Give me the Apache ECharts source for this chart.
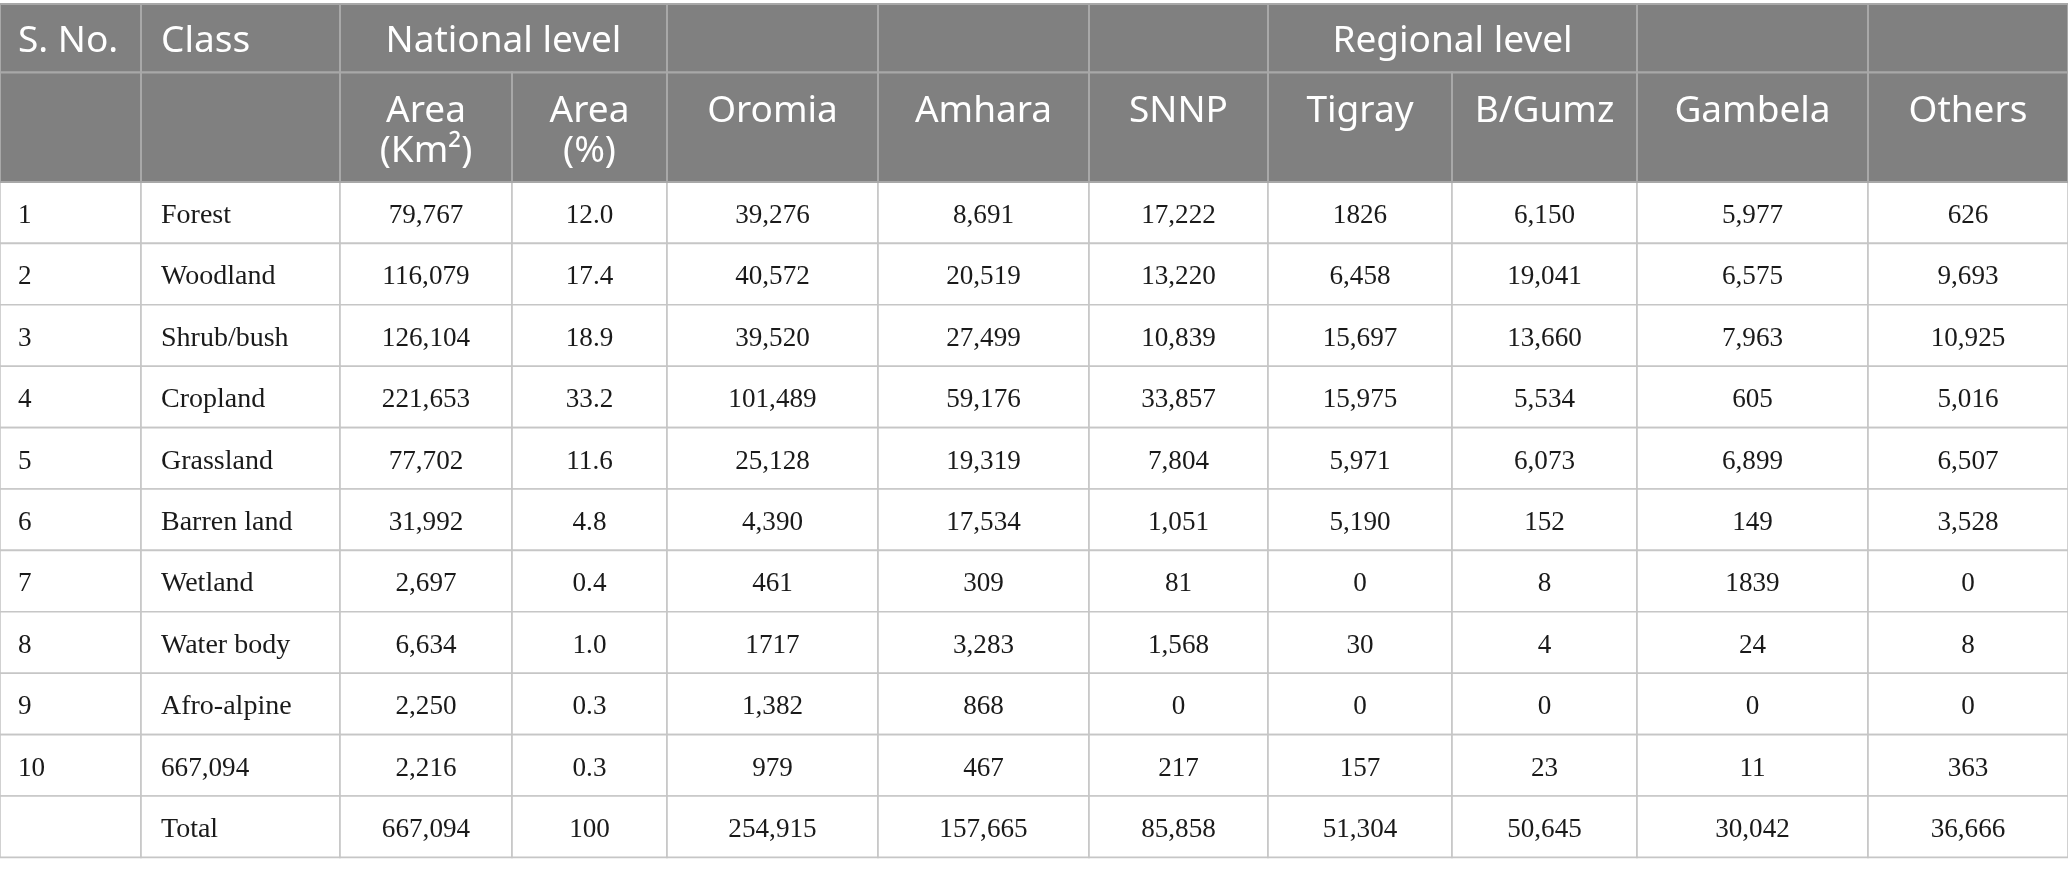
<!DOCTYPE html>
<html>
<head>
<meta charset="utf-8">
<script src="https://cdn.jsdelivr.net/npm/echarts@6.0.0/dist/echarts.min.js"></script>
<style>
html,body{margin:0;padding:0;background:#ffffff;}
#chart{width:2068px;height:876px;}
</style>
</head>
<body>
<div id="chart"></div>
<script>
// ---- Table content ----
const headerTop = ['S. No.', 'Class', 'National level', '', '', '', 'Regional level', '', ''];
const headerSub = ['', '', 'Area\n(Km²)', 'Area\n(%)', 'Oromia', 'Amhara', 'SNNP', 'Tigray', 'B/Gumz', 'Gambela', 'Others'];
const sNo      = ['1', '2', '3', '4', '5', '6', '7', '8', '9', '10', ''];
const classes  = ['Forest', 'Woodland', 'Shrub/bush', 'Cropland', 'Grassland', 'Barren land', 'Wetland', 'Water body', 'Afro-alpine', '667,094', 'Total'];
const areaKm2  = ['79,767', '116,079', '126,104', '221,653', '77,702', '31,992', '2,697', '6,634', '2,250', '2,216', '667,094'];
const areaPct  = ['12.0', '17.4', '18.9', '33.2', '11.6', '4.8', '0.4', '1.0', '0.3', '0.3', '100'];
const oromia   = ['39,276', '40,572', '39,520', '101,489', '25,128', '4,390', '461', '1717', '1,382', '979', '254,915'];
const amhara   = ['8,691', '20,519', '27,499', '59,176', '19,319', '17,534', '309', '3,283', '868', '467', '157,665'];
const snnp     = ['17,222', '13,220', '10,839', '33,857', '7,804', '1,051', '81', '1,568', '0', '217', '85,858'];
const tigray   = ['1826', '6,458', '15,697', '15,975', '5,971', '5,190', '0', '30', '0', '157', '51,304'];
const bGumz    = ['6,150', '19,041', '13,660', '5,534', '6,073', '152', '8', '4', '0', '23', '50,645'];
const gambela  = ['5,977', '6,575', '7,963', '605', '6,899', '149', '1839', '24', '0', '11', '30,042'];
const others   = ['626', '9,693', '10,925', '5,016', '6,507', '3,528', '0', '8', '0', '363', '36,666'];

// ---- Layout (column widths / row heights in table units) ----
const COL_WIDTHS = [141, 199, 172, 155, 211, 211, 179, 184, 185, 231, 200];
const ROW_HEIGHTS = [68.5, 109.5, 61.4, 61.4, 61.4, 61.4, 61.4, 61.4, 61.4, 61.4, 61.4, 61.4, 61.4];

const xEdges = [0];
COL_WIDTHS.forEach(w => xEdges.push(xEdges[xEdges.length - 1] + w));
const yEdges = [0];
ROW_HEIGHTS.forEach(h => yEdges.push(yEdges[yEdges.length - 1] + h));

const cells = [];
function addCell(c0, c1, r0, r1, text, kind, align, col) {
  cells.push({ value: [xEdges[c0], xEdges[c1 + 1], yEdges[r0], yEdges[r1 + 1]], text: text, kind: kind, align: align, col: col });
}

// header row 1 (with merged cells)
const topSpans = [[0, 0], [1, 1], [2, 3], [4, 4], [5, 5], [6, 6], [7, 8], [9, 9], [10, 10]];
topSpans.forEach((s, i) => addCell(s[0], s[1], 0, 0, headerTop[i], 'h1', i < 2 ? 'left' : 'center', s[0]));
// header row 2
headerSub.forEach((t, i) => addCell(i, i, 1, 1, t, 'h2', 'center', i));
// body
const columns = [sNo, classes, areaKm2, areaPct, oromia, amhara, snnp, tigray, bGumz, gambela, others];
for (let r = 0; r < sNo.length; r++) {
  columns.forEach((col, c) => addCell(c, c, r + 2, r + 2, col[r], 'body', c < 2 ? 'left' : 'center', c));
}

const HEADER_FONT = '37px "Noto Sans", "Open Sans", sans-serif';
const BODY_FONT = '28px "Liberation Serif", "DejaVu Serif", serif';

function renderItem(params, api) {
  const d = cells[params.dataIndex];
  const p0 = api.coord([api.value(0), api.value(2)]);
  const p1 = api.coord([api.value(1), api.value(3)]);
  const x = p0[0];
  const y = Math.min(p0[1], p1[1]);
  const w = p1[0] - p0[0];
  const h = Math.abs(p1[1] - p0[1]);
  const isHeader = d.kind !== 'body';
  const rect = {
    type: 'rect',
    shape: { x: x, y: y, width: w, height: h },
    style: {
      fill: isHeader ? '#808080' : '#ffffff',
      stroke: isHeader ? '#a8a8a8' : '#c6c6c6',
      lineWidth: isHeader ? 2 : 1.6
    },
    z2: isHeader ? 2 : 1
  };
  let pad = 20;
  if (d.col === 0) pad = 18;
  const tx = d.align === 'left' ? x + pad : x + w / 2;
  let ty, va;
  if (d.kind === 'h2') { ty = y + 19; va = 'top'; }
  else { ty = y + h / 2 + 3; va = 'middle'; }
  const numeric = d.kind === 'body' && /^[0-9.,]+$/.test(d.text);
  const text = {
    type: 'text',
    z2: 10,
    x: tx,
    y: ty,
    scaleX: numeric ? 0.97 : 1,
    style: {
      text: d.text,
      x: 0,
      y: 0,
      fill: isHeader ? '#ffffff' : '#1a1a1a',
      font: isHeader ? HEADER_FONT : BODY_FONT,
      lineHeight: isHeader ? 40 : 32,
      textAlign: d.align,
      align: d.align,
      textVerticalAlign: va,
      verticalAlign: va
    }
  };
  return { type: 'group', children: [rect, text] };
}

const chart = echarts.init(document.getElementById('chart'));
chart.setOption({
  animation: false,
  backgroundColor: '#ffffff',
  grid: { left: 0, right: 0, top: 4, bottom: 876 - 4 - yEdges[yEdges.length - 1], containLabel: false },
  xAxis: { type: 'value', min: 0, max: xEdges[xEdges.length - 1], show: false },
  yAxis: { type: 'value', min: 0, max: yEdges[yEdges.length - 1], inverse: true, show: false },
  series: [{
    type: 'custom',
    silent: true,
    clip: false,
    renderItem: renderItem,
    encode: { x: [0, 1], y: [2, 3] },
    data: cells.map(c => c.value)
  }]
});
</script>
</body>
</html>
